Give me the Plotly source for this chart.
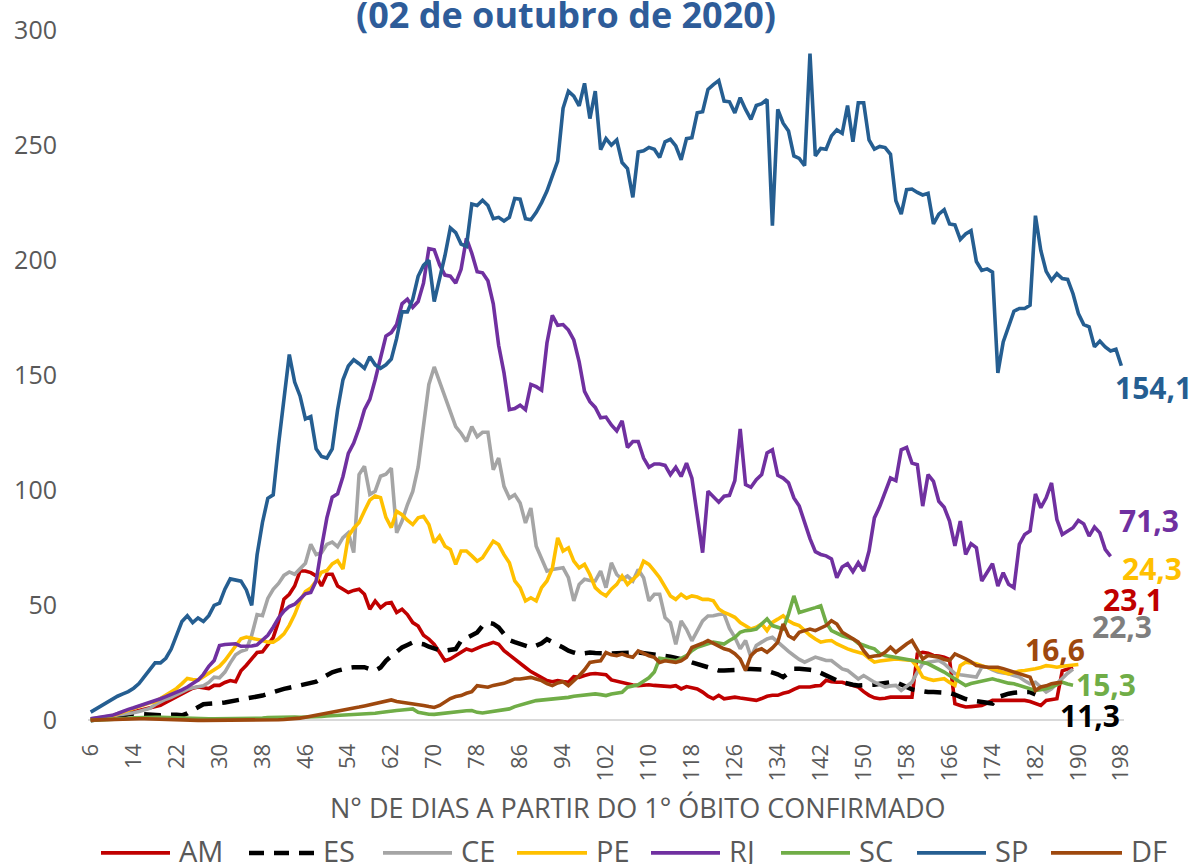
import plotly.graph_objects as go

# ---------------- DATA ----------------
states = ["AM", "ES", "CE", "PE", "RJ", "SC", "SP", "DF"]
first_day = 6  # every series starts at day 6 after the first confirmed death

AM = [0.5, 0.8, 1.0, 1.2, 1.5, 2, 2.6, 3.2, 3.8, 4.5,
      5, 5.6, 6.2, 6.6, 7.8, 9, 10.2, 11.5, 13, 14,
      14.5, 14.2, 13.8, 15.2, 15.2, 16.5, 17.3, 16.8, 21.6, 24,
      27, 29.5, 29.8, 33, 36, 43, 52.7, 54.8, 58.4, 64.9,
      64.9, 64.2, 62.8, 58.4, 63.5, 63.5, 58.4, 57, 55.6, 56.5,
      57, 54.8, 48.3, 51.9, 49, 50.8, 51.2, 46.9, 48.3, 46,
      42.5, 41, 37, 35.3, 33, 29.5, 25.9, 26.7, 28.1, 29.5,
      31, 30.3, 31.5, 32.4, 33.1, 33.9, 33.1, 30.3, 28.5, 26.5,
      24.5, 23, 21.2, 19.8, 18.5, 17.3, 16.8, 17.3, 16.9, 16.6,
      19, 18.7, 19.5, 20.2, 20.4, 20.1, 19.9, 17.6, 17, 16.2,
      15.8, 15.4, 15.1, 15.3, 15.5, 15.2, 15, 14.8, 14.7, 15.1,
      13.7, 14.7, 14.2, 13.7, 12.3, 10.5, 9.4, 10.9, 9.4, 9.8,
      10.1, 9.7, 9.4, 9, 8.7, 9.5, 10.5, 10.9, 10.9, 11.8,
      12.3, 13.5, 14.5, 14.5, 14.5, 15, 15.2, 17.4, 16.8, 16.6,
      16.6, 15.8, 15, 14.5, 12.5, 10.9, 9.8, 9.4, 9.6, 10.1,
      10.1, 10.1, 10, 10.1, 28.9, 29.6, 29.2, 28.2, 28, 27.5,
      26.5, 7.3, 6.5, 5.8, 6, 6.2, 6.5, 7.5, 8.7, 8.7,
      8.7, 8.7, 8.7, 8.5, 8.7, 8.2, 7.5, 6.5, 8.7, 9.2,
      9.4, 21.5, 22.4, 23.1]

ES = [0, 0.4, 0.8, 1.2, 1.5, 1.9, 2.3, 2.7, 3, 2.8,
      2.6, 2.5, 2.3, 2.2, 2.4, 2.6, 2.5, 2.2, 3, 4.5,
      6, 7, 7.2, 7.2, 7.5, 7.8, 8.2, 8.7, 9, 9.4,
      9.7, 10.1, 10.8, 11.5, 12.3, 13.2, 13.7, 14.2, 14.7, 15.2,
      15.5, 15.9, 16.8, 18.3, 19.8, 20.9, 21.6, 22.4, 22.8, 23.1,
      23.1, 23.1, 22.3, 21.6, 23, 25.9, 28, 29.8, 31.7, 32.8,
      33.9, 33.5, 33.1, 32, 31, 30.5, 30.3, 30.7, 31, 34.6,
      35.8, 36.8, 38.2, 41.1, 42.5, 42, 40.4, 37.5, 34.9, 34,
      33.1, 32.3, 31.7, 32.5, 33.5, 35.3, 33.9, 32.8, 31.7, 30.3,
      29.5, 28.8, 29.2, 29.5, 29.3, 29.1, 29.1, 29.1, 29.2, 29.4,
      29.5, 29.5, 29.5, 29.2, 29.1, 28.5, 28.1, 27.8, 27.7, 27.1,
      26.7, 26, 25.2, 24.5, 23.8, 23, 22.3, 21.7, 21.7, 21.7,
      21.7, 22, 22.4, 22.4, 22.4, 22.1, 21.5, 21, 20, 18.8,
      20.5, 22.4, 22.4, 22.4, 22, 21.7, 20.5, 19.5, 18.2, 17.4,
      16.6, 15.9, 15.5, 15.2, 15.2, 15.2, 15.5, 15.9, 16.3, 16.6,
      16.6, 15.5, 14.5, 13.5, 13, 12.6, 12.3, 12.3, 12.3, 12.3,
      11.9, 11.2, 10.1, 9.3, 8.7, 8.3, 8, 7.5, 7.3, 10.1,
      11, 11.6, 12, 12.3, 12.3, 12.3, 11.3]

CE = [0.7, 1, 1.4, 1.8, 2.2, 2.5, 2.8, 3, 3.3, 3.9,
      4.5, 5.2, 6.8, 8.2, 9.2, 10, 11.2, 12.6, 13.5, 14.2,
      14.7, 15, 16.5, 18.8, 18.5, 21, 25, 28.5, 30, 30.8,
      37, 46, 45.5, 53, 57, 59.5, 63, 64.5, 63.5, 66,
      68.3, 76.5, 72.1, 72.9, 76.5, 77.5, 75.5, 79.4, 81.5, 72.9,
      106.8, 110.4, 98.2, 99.6, 106.1, 107, 109.6, 81.5, 86.6, 93.7,
      99.5, 110, 128, 146, 153.6, 147.1, 141.4, 134.9, 127.7, 124.8,
      121.2, 127.7, 123.3, 125.2, 125.2, 108.9, 114, 101.7, 96.6, 98.1,
      94.5, 85.8, 92.3, 75.7, 70.7, 64.9, 65.6, 66, 66.3, 62,
      51.9, 59.1, 61.3, 60.8, 60.6, 64.9, 57.7, 68.5, 63.4, 61.3,
      62.7, 60.6, 65.6, 62, 51.9, 54.8, 54.8, 44.7, 42.5, 33.1,
      43.2, 39.6, 34.6, 38.9, 43.2, 45.4, 45.5, 46, 46.2, 40,
      36.1, 31.1, 34.7, 27.5, 32.5, 34, 35.4, 36.1, 34, 31.8,
      30, 28.2, 26.5, 25.3, 26.5, 27.5, 26.8, 26, 26, 24,
      22.4, 21.7, 20, 18, 19.5, 18, 16.6, 15.5, 14.5, 15,
      15.2, 13, 14.8, 16.6, 21, 24.6, 25.3, 25.6, 26, 24.6,
      22.5, 20.3, 19.8, 19.5, 19, 18.8, 23.1, 23.1, 22, 21,
      20.6, 20.3, 19.5, 18.8, 17.2, 15.9, 16.6, 14.5, 12.3, 13.7,
      16, 18, 20.5, 22.3]

PE = [0.4, 0.8, 1.1, 1.5, 1.9, 2.8, 3.6, 4.5, 5.4, 6.3,
      7.1, 7.6, 8.1, 9.5, 11, 12.4, 13.9, 16, 18.2, 17.8,
      17.5, 19, 20.4, 21.8, 23.5, 26, 29, 32.5, 35.5, 36.2,
      35.8, 35.2, 34.7, 34, 34, 35.5, 37.6, 41.3, 46, 52,
      56, 57.5, 60.5, 64.4, 65.1, 68, 69.4, 65.8, 80, 83.5,
      86, 91, 95.7, 97.5, 96.8, 88.2, 83.8, 90.9, 89.4, 87,
      85.1, 88, 88.7, 85.1, 77.2, 80.1, 75.7, 74.3, 67.8, 73.6,
      73.6, 71.5, 69.2, 70.7, 74, 77.9, 76.4, 72, 68.5, 60.6,
      57.7, 51.9, 53.3, 51.9, 57.7, 60.6, 66, 79.3, 73.6, 75,
      69.2, 66.3, 67.8, 63.4, 57.7, 55.5, 54.1, 57, 59.1, 62.7,
      59.1, 61.5, 63.4, 69.2, 67.8, 65, 62, 58, 54.1, 52.6,
      54.8, 53.1, 54.1, 53.6, 52.6, 52.6, 52, 48.4, 46.9, 46,
      44.8, 42.5, 41.2, 39.7, 40.5, 41.9, 39, 42.6, 44, 45.5,
      43.3, 42, 41.2, 39, 37, 35.4, 34, 34.5, 34.7, 33.2,
      32, 31.1, 30.3, 29.5, 28.9, 27, 25.3, 25.8, 26, 26.3,
      26.7, 26.5, 26.2, 26, 23.1, 18.8, 18, 17.4, 17.8, 18.1,
      16.5, 15.2, 23.8, 25.3, 25, 24.6, 23.8, 23.1, 22.5, 21.7,
      21, 20.2, 20.8, 21.5, 21.7, 22, 22.4, 23, 23.8, 23.5,
      23.1, 23.5, 23.8, 24, 24.3]

RJ = [0.7, 1.1, 1.5, 1.8, 2.2, 3, 4, 4.8, 5.5, 6.2,
      7, 7.6, 8.5, 9.4, 10.3, 11.2, 12.2, 13.3, 14.5, 16,
      17.5, 20, 23.5, 26, 32.5, 33, 33.2, 33.3, 32.2, 32.2,
      32.3, 32.8, 34.7, 37, 40.5, 44.5, 47.5, 49.5, 50.5, 52.5,
      55, 55.6, 60.6, 75, 88, 97, 98.5, 106, 116, 120.5,
      127, 135, 139.5, 148, 158, 167, 168.5, 172, 181, 183,
      179.5, 182, 190, 205, 204.5, 198, 193.5, 193, 190, 196,
      209.5, 203, 195, 194.5, 191, 181, 163, 151, 135, 135.5,
      137, 135, 146, 145, 143.5, 164, 176, 171.7, 172, 169.6,
      165.3, 155.8, 143, 138.5, 136, 131.5, 131.8, 128.4, 125.8, 130.2,
      118.6, 121.2, 121.2, 114, 110, 111.4, 111.4, 110.8, 106.8, 110,
      106, 111.8, 105.3, 89.5, 72.9, 99.6, 97.4, 94.8, 97.4, 97.8,
      104.2, 126.7, 102.5, 101.3, 104.6, 106.8, 116.2, 117.6, 106.5, 105.3,
      103.2, 96.7, 93.1, 86, 79, 73.3, 72.1, 71.5, 70.2, 62,
      66.7, 68.1, 64.6, 68.5, 64.9, 73.6, 88, 93, 99, 105.3,
      104.2, 117.6, 118.6, 111.8, 111.1, 93.1, 106.8, 103.9, 95.2, 92.6,
      86.6, 75.8, 86.6, 72.1, 76.8, 75, 60.6, 64.2, 68.1, 58.4,
      64.2, 59.2, 57.7, 76.5, 80.8, 82.3, 98.4, 92.4, 96.7, 103.2,
      87.3, 80.8, 82.3, 83.7, 86.9, 85.4, 80.1, 84, 81.5, 74.3,
      71.3]

SC = [0, 0.1, 0.2, 0.3, 0.3, 0.5, 0.7, 0.9, 1.1, 1.2,
      1.4, 1.4, 1.3, 1.3, 1.2, 1.2, 1.2, 1.1, 1, 0.9,
      0.8, 0.7, 0.7, 0.7, 0.7, 0.7, 0.7, 0.8, 0.7, 0.7,
      0.8, 0.9, 1, 1.2, 1.3, 1.4, 1.4, 1.4, 1.5, 1.4,
      1.4, 1.4, 1.5, 1.7, 1.9, 2, 2.1, 2.2, 2.3, 2.5,
      2.7, 2.9, 3, 3.1, 3.4, 3.8, 4.2, 4.3, 4.5, 4.8,
      5, 3.5, 2.9, 2.7, 2.6, 2.9, 3.2, 3.6, 3.8, 4,
      4.2, 4.3, 3.5, 3.2, 3.6, 4, 4.3, 4.7, 5, 6,
      6.8, 7.5, 8, 8.6, 8.8, 8.9, 9.1, 9.3, 9.6, 10,
      10.5, 10.8, 11.1, 11.3, 11.5, 11.2, 10.8, 11.5, 11.8, 12.2,
      14.4, 15, 15.5, 17, 18.5, 21, 27, 26.7, 26.3, 25.9,
      27, 28.1, 30.3, 31.8, 32.5, 33.2, 34, 33.6, 33.2, 34.7,
      36, 38.3, 39, 39.2, 39.7, 41.9, 44.1, 41.2, 40.5, 39.7,
      46.2, 54.1, 46.9, 47.5, 48.4, 49, 49.8, 42.6, 39, 37.8,
      36.8, 36, 35.4, 33.5, 32.5, 31.8, 31.1, 29, 28.2, 27.8,
      27.4, 27, 26.7, 26.3, 26, 25.3, 24.6, 23.5, 22.4, 21,
      19.5, 18, 16.6, 15.2, 16, 16.6, 17, 17.4, 18.1, 17.4,
      16.6, 16.2, 15.9, 15.2, 14.5, 13.8, 13, 13.3, 13.7, 14.5,
      15.5, 16.6, 15.8, 15.3]

SP = [3.6, 5, 6.5, 8, 9.5, 10.5, 11.5, 12.5, 14, 16,
      19, 22, 25, 25, 27, 31, 37, 43, 45.5, 42.5,
      44.5, 43, 45.5, 50, 51, 57, 61.5, 61, 60.5, 56.7,
      50, 72, 86, 96.5, 98, 120, 140, 159, 147, 141,
      131, 132, 118, 114.7, 114, 118, 135, 148, 154, 156.7,
      155, 153, 158, 154.5, 153, 154.5, 157, 166, 177.5, 177.5,
      183, 193, 197.7, 200, 182, 192, 202, 214, 212, 207,
      206, 224.4, 223.7, 226, 223.7, 218, 218.6, 217, 218.6, 226.8,
      226.5, 218, 217.5, 220.8, 225, 230, 236.6, 243, 266, 273.4,
      271.3, 267, 276.8, 261.5, 273.4, 248, 252.8, 250, 252.2, 242.4,
      239.8, 227.3, 247, 247.5, 249, 248.2, 244.6, 251.4, 252.5, 249.6,
      243.6, 252.8, 253.2, 264, 264.5, 274.2, 276.3, 278, 269.1, 268.8,
      264, 270.6, 265.5, 261.2, 267.2, 268, 269.8, 215, 265.5, 259.5,
      256.1, 245.3, 244.2, 241, 289.8, 245.3, 248.5, 248.2, 254, 256.6,
      255.1, 267.2, 251.4, 268.4, 268.4, 252.2, 248.2, 249.4, 248.9, 246,
      225.8, 220, 230.6, 230.9, 229.4, 228.3, 229, 215.7, 220, 221.9,
      215.7, 215.3, 209, 211.4, 212.8, 199.4, 195.5, 196.2, 194.8, 151,
      164.5, 171.7, 177.8, 179, 179, 180.4, 219.3, 204.2, 195.1, 191.2,
      194.1, 192, 191.6, 185.4, 176.8, 172, 171, 162.3, 164.8, 162.3,
      160.5, 161.3, 154.1]

DF = [0.1, 0.2, 0.2, 0.3, 0.3, 0.4, 0.5, 0.5, 0.6, 0.7,
      0.7, 0.6, 0.5, 0.5, 0.4, 0.4, 0.3, 0.2, 0.1, 0,
      0, 0, 0, 0, 0, 0, 0, 0, 0, 0,
      0, 0, 0, 0.1, 0.2, 0.3, 0.4, 0.5, 0.7, 1,
      1.4, 1.8, 2.2, 2.6, 3, 3.5, 4, 4.4, 4.8, 5.3,
      5.8, 6.3, 6.8, 7.3, 7.9, 8.7, 8.9, 8.2, 7.9, 7.5,
      7.2, 6.8, 6.5, 6, 5.6, 6.5, 7.9, 9.5, 10.4, 10.8,
      11.8, 12.5, 15.1, 14.8, 14.4, 15.2, 15.7, 16.1, 17, 18,
      18, 18.2, 18.7, 18, 17.3, 16, 15.1, 16.3, 16.8, 15.1,
      17, 19.4, 22, 25.2, 25.6, 25.9, 29.5, 28.5, 28.1, 28.8,
      28, 27.4, 30.2, 29, 28.1, 27.4, 25.2, 25.9, 25.5, 25.2,
      25.9, 27.4, 31.7, 32.4, 33.5, 34.7, 33.5, 32, 31.1, 30.5,
      29, 26.7, 21.7, 28.2, 30.3, 31.1, 29.6, 31.5, 34, 41.9,
      36.8, 35.4, 38.3, 39, 39.7, 39, 40, 41.2, 43.3, 41.9,
      38.3, 36.8, 35.5, 34, 30.3, 27.5, 28, 28.2, 29.6, 31.8,
      29.6, 31.5, 33.2, 34.7, 30.3, 26.7, 28.2, 27.8, 27.5, 26.5,
      26, 28.9, 28, 26.7, 25.5, 23.8, 23.5, 23.1, 23.1, 23.1,
      22.5, 21.7, 21, 20.2, 19.5, 18.8, 13, 14.5, 15, 15.9,
      16.3, 16.6]

end_labels = {"SP": "154,1", "RJ": "71,3", "PE": "24,3", "AM": "23,1",
              "CE": "22,3", "DF": "16,6", "SC": "15,3", "ES": "11,3"}

x_ticks = list(range(6, 199, 8))
y_ticks = [0, 50, 100, 150, 200, 250, 300]

# ---------------- STYLE ----------------
series = {"AM": AM, "ES": ES, "CE": CE, "PE": PE, "RJ": RJ, "SC": SC, "SP": SP, "DF": DF}
colors = {"AM": "#C00000", "ES": "#000000", "CE": "#A5A5A5", "PE": "#FFC000",
          "RJ": "#7030A0", "SC": "#70AD47", "SP": "#255E91", "DF": "#9E480E"}
label_colors = dict(colors, CE="#7F7F7F")
FONT = "Open Sans"
GREY = "#595959"

W, H = 1190, 864
L, R, T = 88, 1124, 27
Y0_PX = 720               # pixel of value 0
PX_PER_UNIT = (Y0_PX - T) / 300.0
YMIN = -2
B = Y0_PX + (-YMIN) * PX_PER_UNIT


def pxx(x):
    return (x - L) / (R - L)


def pxy(y):
    return (B - y) / (B - T)


fig = go.Figure()
for s in states:
    vals = series[s]
    xs = list(range(first_day, first_day + len(vals)))
    fig.add_trace(go.Scatter(
        x=xs, y=vals, mode="lines", name=s, showlegend=False, hoverinfo="skip",
        line=dict(color=colors[s], width=3.6 if s != "ES" else 4.5,
                  dash="17px,10px" if s == "ES" else "solid")))

annotations = []
# title (its top is cropped in the original picture)
annotations.append(dict(text="<b>(02 de outubro de 2020)</b>", xref="paper", yref="paper",
                        x=pxx(566), y=pxy(11), showarrow=False, xanchor="center", yanchor="middle",
                        font=dict(family=FONT, size=36, color="#2E5C99")))
# axis title
annotations.append(dict(text="N° DE DIAS A PARTIR DO 1° ÓBITO CONFIRMADO", xref="paper", yref="paper",
                        x=pxx(638), y=pxy(807), showarrow=False, xanchor="center", yanchor="middle",
                        font=dict(family=FONT, size=27, color=GREY)))
# end-of-line value labels (pixel centres)
label_pos = {"SP": (1153, 386), "RJ": (1149, 519), "PE": (1152, 568), "AM": (1133, 599),
             "CE": (1122, 626), "DF": (1055, 649), "SC": (1106, 684), "ES": (1090, 715)}
for s, (lx, ly) in label_pos.items():
    annotations.append(dict(text="<b>%s</b>" % end_labels[s], xref="paper", yref="paper",
                            x=pxx(lx), y=pxy(ly), showarrow=False, xanchor="center", yanchor="middle",
                            font=dict(family=FONT, size=30, color=label_colors[s])))

# custom legend (long line samples like the original)
legend_line_x = {"AM": (101, 170), "ES": (249, 314), "CE": (383, 452), "PE": (517, 587),
                 "RJ": (651, 720), "SC": (781, 850), "SP": (917, 986), "DF": (1051, 1122)}
LEG_Y = 853
shapes = []
for s in states:
    x0, x1 = legend_line_x[s]
    shapes.append(dict(type="line", xref="paper", yref="paper", x0=pxx(x0), x1=pxx(x1),
                       y0=pxy(LEG_Y), y1=pxy(LEG_Y),
                       line=dict(color=colors[s], width=4.5 if s == "ES" else 3.6,
                                 dash="15px,10px" if s == "ES" else "solid")))
    annotations.append(dict(text=s, xref="paper", yref="paper", x=pxx(x1 + 7), y=pxy(LEG_Y - 2),
                            showarrow=False, xanchor="left", yanchor="middle",
                            font=dict(family=FONT, size=29, color=GREY)))

fig.update_layout(
    width=W, height=H, autosize=False,
    margin=dict(l=L, r=W - R, t=T, b=H - B, pad=0),
    paper_bgcolor="white", plot_bgcolor="white",
    showlegend=False,
    annotations=annotations, shapes=shapes,
    font=dict(family=FONT, color=GREY),
    xaxis=dict(range=[5.5, 198.5], tickmode="array", tickvals=x_ticks,
               ticktext=[str(v) for v in x_ticks], tickangle=-90,
               showgrid=False, zeroline=False, showline=False,
               ticks="outside", ticklen=9, tickcolor="rgba(0,0,0,0)",
               tickfont=dict(family=FONT, size=22, color=GREY), fixedrange=True),
    yaxis=dict(range=[YMIN, 300], tickmode="array", tickvals=y_ticks,
               showgrid=False, zeroline=True, zerolinecolor="#D9D9D9", zerolinewidth=2,
               showline=False, ticks="outside", ticklen=25, tickcolor="rgba(0,0,0,0)",
               tickfont=dict(family=FONT, size=25, color=GREY), fixedrange=True),
)

fig.write_html("out.html", config={"displayModeBar": False},
               post_script="document.body.style.margin='0';document.body.style.overflow='hidden';")
